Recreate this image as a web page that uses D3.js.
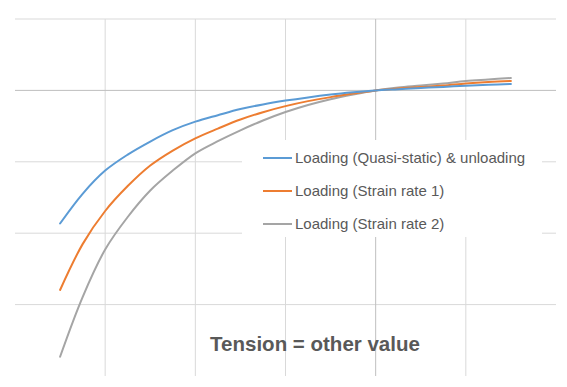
<!DOCTYPE html>
<html lang="en">
<head>
   <meta charset="utf-8">
   <title>Tension = other value</title>
   <style type="text/css">
      body { margin: 0; background: #fff; }
      svg { display: block; font-family: "Liberation Sans", Arial, sans-serif; }
   </style>
</head>
<body>
   <script src="https://cdn.jsdelivr.net/npm/d3@7"></script>
   <script type="text/javascript">

      var w = 567;
      var h = 387;

      // data
      var xValues = [-3.5, -3.25, -3, -2.75, -2.5, -2.25, -2, -1.75, -1.5, -1.25, -1,
                     -0.75, -0.5, -0.25, 0, 0.25, 0.5, 0.75, 1, 1.25, 1.5];
      var quasiStatic = [-1.864, -1.448, -1.123, -0.899, -0.716, -0.557, -0.438, -0.347, -0.261, -0.196, -0.143,
                         -0.098, -0.059, -0.027, 0, 0.017, 0.034, 0.049, 0.066, 0.080, 0.090];
      var strainRate1 = [-2.795, -2.153, -1.689, -1.340, -1.052, -0.842, -0.671, -0.535, -0.408, -0.305, -0.220,
                         -0.150, -0.094, -0.045, 0, 0.025, 0.046, 0.067, 0.097, 0.118, 0.132];
      var strainRate2 = [-3.730, -2.894, -2.228, -1.773, -1.402, -1.123, -0.881, -0.711, -0.559, -0.422, -0.303,
                         -0.204, -0.123, -0.057, 0, 0.039, 0.067, 0.097, 0.132, 0.153, 0.174];
      var seriesNames = ["Loading (Quasi-static) & unloading", "Loading (Strain rate 1)", "Loading (Strain rate 2)"];
      var seriesColors = ["#5b9bd5", "#ed7d31", "#a5a5a5"];
      var xGridTicks = [-3, -2, -1, 1];
      var yGridTicks = [1, -1, -2, -3];
      var title = "Tension = other value";

      var allSeries = [quasiStatic, strainRate1, strainRate2];

      var xScale = d3.scaleLinear().domain([-4, 2]).range([15, 556]);
      var yScale = d3.scaleLinear().domain([-4, 1]).range([376, 19]);

      var svg = d3.select("body")
                  .append("svg")
                  .attr("width", w)
                  .attr("height", h);

      // gridlines
      svg.append("g")
         .selectAll("line")
         .data(xGridTicks)
         .enter()
         .append("line")
         .attr("x1", function(d) { return xScale(d); })
         .attr("x2", function(d) { return xScale(d); })
         .attr("y1", yScale(1))
         .attr("y2", yScale(-4))
         .attr("stroke", "#d9d9d9")
         .attr("stroke-width", 1);

      svg.append("g")
         .selectAll("line")
         .data(yGridTicks)
         .enter()
         .append("line")
         .attr("x1", xScale(-4))
         .attr("x2", xScale(2))
         .attr("y1", function(d) { return yScale(d); })
         .attr("y2", function(d) { return yScale(d); })
         .attr("stroke", "#d9d9d9")
         .attr("stroke-width", 1);

      // axes through zero, no labels
      svg.append("line")
         .attr("x1", xScale(-4)).attr("x2", xScale(2))
         .attr("y1", yScale(0)).attr("y2", yScale(0))
         .attr("stroke", "#bfbfbf").attr("stroke-width", 1);

      svg.append("line")
         .attr("x1", xScale(0)).attr("x2", xScale(0))
         .attr("y1", yScale(1)).attr("y2", yScale(-4))
         .attr("stroke", "#bfbfbf").attr("stroke-width", 1);

      var line = d3.line()
                   .x(function(d, i) { return xScale(xValues[i]); })
                   .y(function(d) { return yScale(d); })
                   .curve(d3.curveCatmullRom.alpha(0.5));

      // draw last series first so blue sits on top
      svg.append("g")
         .selectAll("path")
         .data(allSeries.map(function(s, i) { return {values: s, color: seriesColors[i]}; }).reverse())
         .enter()
         .append("path")
         .attr("d", function(d) { return line(d.values); })
         .attr("fill", "none")
         .attr("stroke", function(d) { return d.color; })
         .attr("stroke-width", 2)
         .attr("stroke-linecap", "round");

      // legend, on a white box over the grid
      var legend = svg.append("g");

      legend.append("rect")
            .attr("x", 242)
            .attr("y", 140)
            .attr("width", 300)
            .attr("height", 97)
            .attr("fill", "#fff");

      var rows = legend.selectAll(".row")
                       .data(seriesNames)
                       .enter()
                       .append("g")
                       .attr("class", "row")
                       .attr("transform", function(d, i) { return "translate(263," + (158 + i * 33) + ")"; });

      rows.append("line")
          .attr("x1", 0).attr("x2", 29)
          .attr("y1", 0).attr("y2", 0)
          .attr("stroke", function(d, i) { return seriesColors[i]; })
          .attr("stroke-width", 2);

      rows.append("text")
          .attr("x", 32)
          .attr("y", 0)
          .attr("dy", "0.35em")
          .attr("font-size", "15px")
          .attr("fill", "#595959")
          .text(function(d) { return d; });

      // title at bottom
      svg.append("text")
         .attr("x", 315)
         .attr("y", 351)
         .style("text-anchor", "middle")
         .attr("font-size", "20.5px")
         .attr("font-weight", "bold")
         .attr("fill", "#595959")
         .text(title);
   </script>
</body>
</html>
